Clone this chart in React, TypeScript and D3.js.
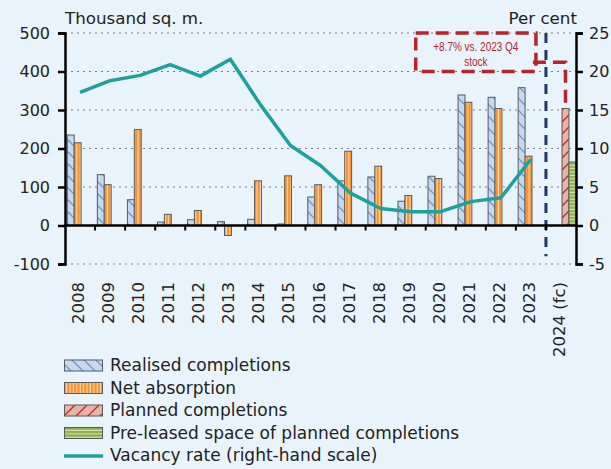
import React, { useEffect, useRef } from "react";
import * as d3 from "d3";

const years = ["2008", "2009", "2010", "2011", "2012", "2013", "2014", "2015", "2016", "2017", "2018", "2019", "2020", "2021", "2022", "2023", "2024 (fc)"];
const realised = [235, 132, 67, 9, 15, 10, 16, 4, 74, 116, 126, 63, 128, 339, 333, 358, null];
const netAbsorption = [215, 106, 249, 29, 39, -26, 116, 129, 106, 193, 154, 78, 122, 320, 304, 180, null];
const planned = [null, null, null, null, null, null, null, null, null, null, null, null, null, null, null, null, 304];
const preLeased = [null, null, null, null, null, null, null, null, null, null, null, null, null, null, null, null, 165];
const vacancy = [17.3, 18.8, 19.5, 20.9, 19.4, 21.6, 15.7, 10.4, 7.8, 4.2, 2.2, 1.8, 1.8, 3.1, 3.6, 8.6, null];
const leftTicks = [-100, 0, 100, 200, 300, 400, 500];
const rightTicks = [-5, 0, 5, 10, 15, 20, 25];

const seriesKeys = ["realised", "net", "planned", "preleased"];
const seriesValues = [realised, netAbsorption, planned, preLeased];
const seriesFill = ["url(#pRealised)", "url(#pNet)", "url(#pPlanned)", "url(#pPre)"];
const legendLabels = ["Realised completions", "Net absorption", "Planned completions", "Pre-leased space of planned completions", "Vacancy rate (right-hand scale)"];

const FONT = "'DejaVu Sans', sans-serif";

export default function App() {
  const svgRef = useRef<SVGSVGElement>(null);

  useEffect(() => {
    const W = 611, H = 469;
    const left = 65, right = 576, top = 33, bottom = 264;
    const svg = d3.select(svgRef.current);
    svg.selectAll("*").remove();
    svg.attr("width", W).attr("height", H);

    // patterns
    const defs = svg.append("defs");
    const pr = defs.append("pattern").attr("id", "pRealised").attr("patternUnits", "userSpaceOnUse").attr("width", 12).attr("height", 12);
    pr.append("rect").attr("width", 12).attr("height", 12).attr("fill", "#c6d9f0");
    pr.append("path").attr("d", "M-3,-3L15,15M-3,9L3,15M9,-3L15,3").attr("stroke", "#6e95c6").attr("stroke-width", 1.3);
    const pn = defs.append("pattern").attr("id", "pNet").attr("patternUnits", "userSpaceOnUse").attr("width", 3.4).attr("height", 4);
    pn.append("rect").attr("width", 3.4).attr("height", 4).attr("fill", "#f7922e");
    pn.append("rect").attr("x", 1.5).attr("width", 1).attr("height", 4).attr("fill", "#fde3c6");
    const pp = defs.append("pattern").attr("id", "pPlanned").attr("patternUnits", "userSpaceOnUse").attr("width", 12).attr("height", 12);
    pp.append("rect").attr("width", 12).attr("height", 12).attr("fill", "#e5b4a4");
    pp.append("path").attr("d", "M-3,15L15,-3M-3,3L3,-3M9,15L15,9").attr("stroke", "#c0282d").attr("stroke-width", 1.3);
    const pg = defs.append("pattern").attr("id", "pPre").attr("patternUnits", "userSpaceOnUse").attr("width", 4).attr("height", 3.4);
    pg.append("rect").attr("width", 4).attr("height", 3.4).attr("fill", "#8fb04a");
    pg.append("rect").attr("y", 1.5).attr("width", 4).attr("height", 1).attr("fill", "#d9e6bd");

    svg.append("rect").attr("width", W).attr("height", H).attr("fill", "#e9f3fb");

    const x = d3.scaleBand().domain(years).range([left, right]).padding(0);
    const xs = d3.scaleBand().domain(seriesKeys).range([2.3, 2.3 + 27.6]).padding(0);
    const yL = d3.scaleLinear().domain([-100, 500]).range([bottom, top]);
    const yR = d3.scaleLinear().domain([-5, 25]).range([bottom, top]);

    // grid
    svg.append("g").selectAll("line").data(leftTicks.filter((t) => t !== 0)).enter().append("line")
      .attr("x1", left).attr("x2", right).attr("y1", (d) => yL(d)).attr("y2", (d) => yL(d))
      .attr("stroke", "#7f7f7f").attr("stroke-width", 1.2).attr("stroke-dasharray", "2,4");

    // bars
    seriesKeys.forEach((key, i) => {
      const vals = seriesValues[i];
      svg.append("g").selectAll("rect")
        .data(years.map((y, j) => ({ y, v: vals[j] })).filter((d) => d.v !== null))
        .enter().append("rect")
        .attr("x", (d) => x(d.y) + xs(key))
        .attr("width", xs.bandwidth())
        .attr("y", (d) => yL(Math.max(0, d.v)))
        .attr("height", (d) => Math.abs(yL(d.v) - yL(0)))
        .attr("fill", seriesFill[i])
        .attr("stroke", "#5a5a5a").attr("stroke-width", 1);
    });

    // vacancy line
    const line = d3.line<number | null>()
      .defined((d) => d !== null)
      .x((d, i) => x(years[i]) + x.bandwidth() / 2)
      .y((d) => yR(d as number));
    svg.append("path").attr("d", line(vacancy)).attr("fill", "none")
      .attr("stroke", "#1ba39b").attr("stroke-width", 3.5).attr("stroke-linejoin", "round");

    // forecast divider
    svg.append("line").attr("x1", x("2024 (fc)")).attr("x2", x("2024 (fc)"))
      .attr("y1", yR(25)).attr("y2", yR(-4))
      .attr("stroke", "#1f3864").attr("stroke-width", 3).attr("stroke-dasharray", "10,7");

    // annotation
    const red = "#b8242b";
    const boxL = x("2020") - 10, boxR = x("2024 (fc)") - 10;
    svg.append("rect").attr("x", boxL).attr("y", yR(25)).attr("width", boxR - boxL).attr("height", yR(20) - yR(25))
      .attr("fill", "none").attr("stroke", red).attr("stroke-width", 3.5).attr("stroke-dasharray", "13,7");
    const cx = x("2024 (fc)") + xs("planned") + xs.bandwidth() / 2;
    svg.append("path").attr("d", `M${boxR - 3},${yR(21.2)}H${cx}V${yL(planned[16])}`)
      .attr("fill", "none").attr("stroke", red).attr("stroke-width", 3.5).attr("stroke-dasharray", "13,7");
    const ann = svg.append("text").attr("text-anchor", "middle").attr("fill", red)
      .attr("transform", `translate(${(boxL + boxR) / 2},0) scale(0.8,1)`)
      .attr("font-family", "'Liberation Sans', sans-serif").attr("font-size", 12.5);
    ann.append("tspan").attr("x", 0).attr("y", 51).text("+8.7% vs. 2023 Q4");
    ann.append("tspan").attr("x", 0).attr("y", 66).text("stock");

    // zero axis + ticks
    svg.append("line").attr("x1", left).attr("x2", right).attr("y1", yL(0)).attr("y2", yL(0))
      .attr("stroke", "#000").attr("stroke-width", 2.5);
    svg.append("g").selectAll("line").data(years.slice(1)).enter().append("line")
      .attr("x1", (d) => x(d)).attr("x2", (d) => x(d)).attr("y1", yL(0)).attr("y2", yL(0) + 5)
      .attr("stroke", "#000").attr("stroke-width", 2);

    // left / right axes
    const fmt = (d: number) => String(d);
    const axisL = svg.append("g").attr("transform", `translate(${left},0)`)
      .call(d3.axisLeft(yL).tickValues(leftTicks).tickFormat(fmt).tickSize(7).tickPadding(8));
    const axisR = svg.append("g").attr("transform", `translate(${right},0)`)
      .call(d3.axisRight(yR).tickValues(rightTicks).tickFormat(fmt).tickSize(7).tickPadding(6));
    [axisL, axisR].forEach((g) => {
      g.select(".domain").attr("stroke", "#000").attr("stroke-width", 2.5);
      g.selectAll(".tick line").attr("stroke", "#000").attr("stroke-width", 2.5);
      g.selectAll(".tick text").attr("font-family", FONT).attr("font-size", 16).attr("fill", "#222");
    });

    // x labels
    svg.append("g").selectAll("text").data(years).enter().append("text")
      .attr("transform", (d) => `translate(${x(d) + x.bandwidth() / 2 + 4},282) rotate(-90)`)
      .attr("text-anchor", "end").attr("font-family", FONT).attr("font-size", 16.5).attr("fill", "#222")
      .text((d) => d);

    // titles
    svg.append("text").attr("x", 65).attr("y", 24).attr("font-family", FONT).attr("font-size", 16.7).attr("fill", "#222").text("Thousand sq. m.");
    svg.append("text").attr("x", 577).attr("y", 24).attr("text-anchor", "end").attr("font-family", FONT).attr("font-size", 16.7).attr("fill", "#222").text("Per cent");

    // legend
    const lg = svg.append("g");
    legendLabels.forEach((label, i) => {
      const cy = 365 + i * 22.5;
      if (i < 4) {
        lg.append("rect").attr("x", 64.5).attr("y", cy - 5).attr("width", 38).attr("height", 11)
          .attr("fill", seriesFill[i]).attr("stroke", "#5a5a5a").attr("stroke-width", 1);
      } else {
        lg.append("line").attr("x1", 64).attr("x2", 103).attr("y1", cy + 1).attr("y2", cy + 1)
          .attr("stroke", "#1ba39b").attr("stroke-width", 3.5);
      }
      lg.append("text").attr("x", 110).attr("y", cy + 6).attr("font-family", FONT).attr("font-size", 17).attr("fill", "#222").text(label);
    });
  }, []);

  return (
    <svg ref={svgRef} style={{ position: "absolute", left: 0, top: 0, display: "block" }}></svg>
  );
}
